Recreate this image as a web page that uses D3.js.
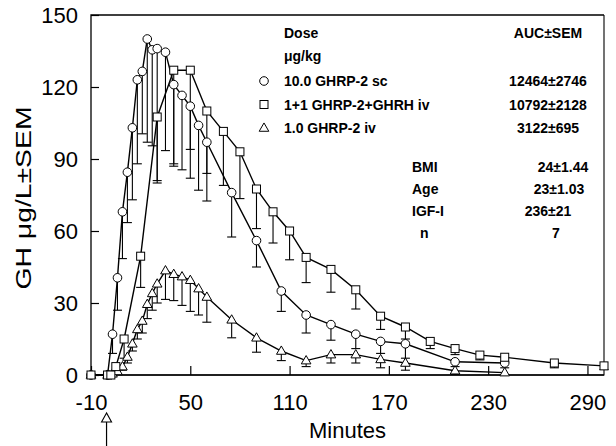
<!DOCTYPE html>
<html>
<head>
<meta charset="utf-8">
<script src="https://cdn.jsdelivr.net/npm/d3@7"></script>
<style>
  body { margin: 0; background: #fff; }
  svg { display: block; }
  text { font-family: Arial, "Liberation Sans", Helvetica, sans-serif; fill: #000; }
</style>
</head>
<body>
<svg id="chart"></svg>
<script>
// 10.0 GHRP-2 sc (circles)
const timesSc = [-10, 0, 3, 6, 9, 12, 15, 18, 21, 24, 27, 30, 35, 40, 45, 50, 55, 60, 75, 90, 105, 120, 135, 150, 165, 180, 210, 240];
const ghSc    = [0, 0, 17, 40.5, 68, 84.5, 103, 123, 126.5, 140, 135.5, 136, 134.5, 121, 116.5, 112, 104, 97, 76, 56, 35, 25, 21, 17, 14, 13, 5.5, 5];
const semSc   = [0, 0, 8, 13.5, 19.5, 21, 30, 35, 26, 43, 40, 55, 41, 34, 31, 30, 27, 24.5, 18.5, 11, 8.5, 7.5, 6.5, 6, 5, 6, 2, 2];

// 1+1 GHRP-2+GHRH iv (squares)
const timesCombo = [-10, 0, 2, 5, 10, 20, 30, 40, 50, 60, 70, 80, 90, 100, 110, 120, 135, 150, 165, 180, 195, 210, 225, 240, 270, 300];
const ghCombo    = [0, 0, 0, 3.5, 15, 49.5, 107.5, 127, 127, 110, 101.5, 93, 77.5, 68, 60, 49, 44, 35.5, 24.5, 20, 14, 11, 8.3, 7.4, 5, 3.8];
const semCombo   = [0, 0, 0, 2, 8, 13, 27.5, 39, 33, 26, 22.5, 19.5, 16.5, 13, 12, 10.5, 9.5, 8, 5.5, 5, 3, 2.5, 2, 2, 2, 1.5];

// 1.0 GHRP-2 iv (triangles)
const timesIv = [-10, 0, 3, 6, 9, 12, 15, 18, 21, 24, 27, 30, 35, 40, 45, 50, 55, 60, 75, 90, 105, 120, 135, 150, 165, 180, 210, 240];
const ghIv    = [0, 0, 0.5, 1.5, 3.5, 7.5, 13, 19, 22.5, 29.5, 34, 38, 43.5, 42, 41, 39.5, 36, 32.5, 23, 15.5, 10, 6, 8.5, 8.5, 6.5, 5, 1.8, 1];
const semIv   = [0, 0, 0.5, 1, 1.5, 2.5, 3, 4, 5, 6, 7, 8, 12, 11, 12, 13, 11, 10.5, 7.5, 6, 4, 2.5, 3.5, 3.5, 3.5, 3, 1.5, 1];

const xTicks = [-10, 50, 110, 170, 230, 290];
const yTicks = [0, 30, 60, 90, 120, 150];

const legendLabels = ['10.0 GHRP-2 sc', '1+1 GHRP-2+GHRH iv', '1.0 GHRP-2 iv'];
const aucLabels = ['12464\u00b12746', '10792\u00b12128', '3122\u00b1695'];
const statNames = ['BMI', 'Age', 'IGF-I', 'n'];
const statValues = ['24\u00b11.44', '23\u00b11.03', '236\u00b121', '7'];

function makeSeries(times, gh, sem, shape) {
	return times.map((t, i) => ({ t: t, v: gh[i], e: sem[i], shape: shape }));
}

function drawMarker(g, shape, x, y) {
	if (shape == 'circle') {
		g.append('circle').attr('cx', x).attr('cy', y).attr('r', 4.3)
			.attr('fill', '#fff').attr('stroke', '#000').attr('stroke-width', 1);
	} else if (shape == 'square') {
		g.append('rect').attr('x', x - 4).attr('y', y - 4).attr('width', 8).attr('height', 8)
			.attr('fill', '#fff').attr('stroke', '#000').attr('stroke-width', 1);
	} else {
		g.append('path').attr('d', d3.symbol(d3.symbolTriangle, 40)())
			.attr('transform', 'translate(' + x + ',' + (y + 0.5) + ')')
			.attr('fill', '#fff').attr('stroke', '#000').attr('stroke-width', 1);
	}
}

function makeChart() {
	let w = 616;
	let h = 446;
	let marginL = 91;
	let marginR = 12;
	let marginT = 15;
	let marginB = 71;

	let svg = d3.select('#chart').attr('width', w).attr('height', h);

	let xScale = d3.scaleLinear().domain([-10, 300]).range([marginL, w - marginR]);
	let yScale = d3.scaleLinear().domain([0, 150]).range([h - marginB, marginT]);

	// axes, ticks point inward; plain hyphen for the minus sign
	let xAxis = d3.axisBottom(xScale).tickValues(xTicks).tickFormat(d => String(d))
		.tickSizeInner(-9).tickSizeOuter(0).tickPadding(19);
	let yAxis = d3.axisLeft(yScale).tickValues(yTicks).tickFormat(d => String(d))
		.tickSizeInner(-8).tickSizeOuter(0).tickPadding(13);

	let gx = svg.append('g').attr('transform', 'translate(0,' + (h - marginB) + ')').call(xAxis);
	let gy = svg.append('g').attr('transform', 'translate(' + marginL + ',0)').call(yAxis);
	[gx, gy].forEach(g => {
		g.select('.domain').remove();
		g.selectAll('line').attr('stroke', '#000').attr('stroke-width', 1.2);
		g.selectAll('text').style('font-size', '22px').attr('fill', '#000');
	});

	// frame: heavier axes on left/bottom, lighter top/right
	let x0 = marginL, x1 = w - marginR, y0 = marginT, y1 = h - marginB;
	svg.append('path').attr('d', `M${x0},${y1}H${x1}V${y0}`)
		.attr('fill', 'none').attr('stroke', '#000').attr('stroke-width', 1.1);
	svg.append('path').attr('d', `M${x0},${y1}V${y0}H${x1}`)
		.attr('fill', 'none').attr('stroke', '#000').attr('stroke-width', 1.3);
	svg.append('line').attr('x1', x0).attr('x2', x1).attr('y1', y1).attr('y2', y1)
		.attr('stroke', '#000').attr('stroke-width', 1.6);

	let series = [
		makeSeries(timesIv, ghIv, semIv, 'triangle'),
		makeSeries(timesSc, ghSc, semSc, 'circle'),
		makeSeries(timesCombo, ghCombo, semCombo, 'square')
	];

	let line = d3.line().x(d => xScale(d.t)).y(d => yScale(d.v));

	series.forEach(s => {
		let g = svg.append('g');
		// error bars, lower side only
		let bars = g.selectAll('g.err').data(s.filter(d => d.e > 0)).enter().append('g');
		bars.append('line')
			.attr('x1', d => xScale(d.t)).attr('x2', d => xScale(d.t))
			.attr('y1', d => yScale(d.v)).attr('y2', d => yScale(d.v - d.e))
			.attr('stroke', '#000').attr('stroke-width', 1.1);
		bars.append('line')
			.attr('x1', d => xScale(d.t) - 4.5).attr('x2', d => xScale(d.t) + 4.5)
			.attr('y1', d => yScale(d.v - d.e)).attr('y2', d => yScale(d.v - d.e))
			.attr('stroke', '#000').attr('stroke-width', 1.1);
		g.append('path').datum(s).attr('d', line)
			.attr('fill', 'none').attr('stroke', '#000').attr('stroke-width', 1.4);
	});
	series.forEach(s => {
		let g = svg.append('g');
		s.forEach(d => drawMarker(g, d.shape, xScale(d.t), yScale(d.v)));
	});

	// axis titles
	svg.append('text')
		.attr('x', (marginL + w - marginR) / 2).attr('y', 438)
		.attr('text-anchor', 'middle').style('font-size', '22px')
		.text('Minutes');
	svg.append('text')
		.attr('transform', 'translate(31,198) rotate(-90)')
		.attr('text-anchor', 'middle').style('font-size', '22px')
		.attr('textLength', 183).attr('lengthAdjust', 'spacingAndGlyphs')
		.text('GH \u03bcg/L\u00b1SEM');

	// dose arrow at time 0
	let ax = xScale(0) - 1;
	svg.append('line').attr('x1', ax).attr('x2', ax).attr('y1', 422).attr('y2', 446)
		.attr('stroke', '#000').attr('stroke-width', 1.2);
	svg.append('path').attr('d', 'M' + ax + ',413 L' + (ax - 5) + ',422 L' + (ax + 5) + ',422 Z')
		.attr('fill', '#fff').attr('stroke', '#000').attr('stroke-width', 1.1);

	// legend block
	function btext(x, y, s, anchor) {
		return svg.append('text').attr('x', x).attr('y', y)
			.attr('text-anchor', anchor || 'start')
			.style('font-size', '14px').style('font-weight', 'bold')
			.text(s);
	}
	btext(284, 38, 'Dose');
	btext(284, 61, '\u03bcg/kg');
	btext(548, 38, 'AUC\u00b1SEM', 'middle');
	let shapes = ['circle', 'square', 'triangle'];
	legendLabels.forEach((s, i) => {
		let cy = 81 + i * 23.5;
		drawMarker(svg.append('g'), shapes[i], 264, cy);
		btext(284, cy + 5, s);
		btext(548, cy + 5, aucLabels[i], 'middle');
	});
	let statX = [412, 412, 412, 420];
	let valX = [563, 559, 548, 556];
	statNames.forEach((s, i) => {
		let y = 172 + i * 22;
		btext(statX[i], y, s);
		btext(valX[i], y, statValues[i], 'middle');
	});
}

window.onload = function () {
	makeChart();
};
</script>
</body>
</html>
